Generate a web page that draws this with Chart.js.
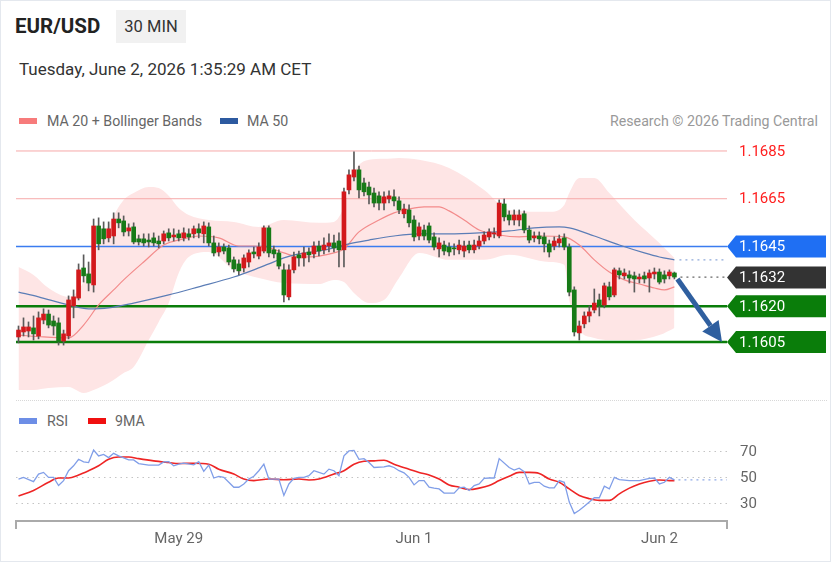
<!DOCTYPE html>
<html><head><meta charset="utf-8">
<script src="https://cdn.jsdelivr.net/npm/chart.js@4"></script>
<style>
html,body{margin:0;padding:0;background:#fff;}
body{width:832px;height:564px;position:relative;overflow:hidden;font-family:Roboto,'Liberation Sans',sans-serif;}
#frame{position:absolute;left:0;top:0;width:831px;height:562px;border:1px solid #e4e8ee;box-sizing:border-box;}
.t{position:absolute;white-space:nowrap;}
#title{left:15px;top:13px;font-size:20.5px;font-weight:bold;color:#222;line-height:26px;}
#tf{left:116px;top:10px;width:70px;height:33px;line-height:33px;text-align:center;background:#f1f1f1;font-size:16.5px;color:#333;}
#date{left:19px;top:58px;font-size:17px;color:#333;line-height:22px;}
.sw{position:absolute;width:18px;height:6px;}
.lg{font-size:14.2px;color:#666;line-height:16px;}
canvas{position:absolute;left:0;}
#sep{position:absolute;left:16px;top:400px;width:811px;border-top:1px dotted #d8d8d8;}
</style></head>
<body>
<div id="frame"></div>
<div class="t" id="title">EUR/USD</div>
<div class="t" id="tf">30 MIN</div>
<div class="t" id="date">Tuesday, June 2, 2026 1:35:29 AM CET</div>
<div class="sw" style="left:19px;top:118px;background:#f77b7b"></div>
<div class="t lg" style="left:47px;top:113px">MA 20 + Bollinger Bands</div>
<div class="sw" style="left:220px;top:118px;background:#2d5aa0"></div>
<div class="t lg" style="left:247px;top:113px">MA 50</div>
<div class="t lg" style="right:14px;top:113px;color:#999">Research © 2026 Trading Central</div>
<div id="sep"></div>
<div class="sw" style="left:19px;top:418px;background:#6d8ee6"></div>
<div class="t lg" style="left:47px;top:413px">RSI</div>
<div class="sw" style="left:88px;top:418px;background:#f01010"></div>
<div class="t lg" style="left:115px;top:413px">9MA</div>
<canvas id="main" width="832" height="260" style="top:140px"></canvas>
<canvas id="rsi" width="832" height="124" style="top:440px"></canvas>
<script>
// ---------- DATA ----------
const slotCount = 142; // 132 candles + empty space on the right
const tickSlots = [32, 79, 128];
const tickLabels = ['May 29', 'Jun 1', 'Jun 2'];

const opens = [
1.16071,1.16092,1.16096,1.16109,1.16075,1.16142,1.16167,1.16138,1.16130,1.16054,
1.16075,1.16201,1.16234,1.16360,1.16335,1.16289,1.16536,1.16524,1.16486,1.16494,
1.16565,1.16557,1.16515,1.16532,1.16482,1.16482,1.16477,1.16486,1.16473,1.16473,
1.16507,1.16490,1.16503,1.16486,1.16503,1.16503,1.16524,1.16503,1.16532,1.16465,
1.16427,1.16448,1.16444,1.16394,1.16377,1.16360,1.16385,1.16427,1.16410,1.16431,
1.16528,1.16436,1.16423,1.16352,1.16239,1.16352,1.16415,1.16402,1.16427,1.16419,
1.16452,1.16436,1.16452,1.16465,1.16473,1.16436,1.16687,1.16741,1.16771,1.16716,
1.16699,1.16674,1.16662,1.16632,1.16649,1.16658,1.16641,1.16587,1.16603,1.16561,
1.16494,1.16519,1.16536,1.16490,1.16440,1.16456,1.16448,1.16444,1.16436,1.16431,
1.16456,1.16436,1.16452,1.16473,1.16490,1.16503,1.16494,1.16628,1.16582,1.16561,
1.16561,1.16587,1.16519,1.16486,1.16494,1.16490,1.16461,1.16452,1.16465,1.16486,
1.16448,1.16268,1.16088,1.16126,1.16159,1.16184,1.16226,1.16205,1.16281,1.16247,
1.16348,1.16327,1.16331,1.16327,1.16314,1.16327,1.16318,1.16335,1.16343,1.16331,
1.16327,1.16339];
const closes = [
1.16100,1.16113,1.16113,1.16084,1.16151,1.16167,1.16121,1.16117,1.16050,1.16084,
1.16226,1.16239,1.16352,1.16327,1.16297,1.16536,1.16461,1.16482,1.16524,1.16565,
1.16549,1.16511,1.16528,1.16469,1.16469,1.16465,1.16469,1.16465,1.16461,1.16503,
1.16486,1.16498,1.16486,1.16507,1.16490,1.16524,1.16507,1.16536,1.16465,1.16423,
1.16448,1.16431,1.16385,1.16356,1.16348,1.16402,1.16423,1.16419,1.16448,1.16528,
1.16423,1.16419,1.16368,1.16247,1.16352,1.16406,1.16402,1.16423,1.16415,1.16452,
1.16431,1.16456,1.16465,1.16444,1.16436,1.16679,1.16750,1.16771,1.16687,1.16679,
1.16666,1.16632,1.16632,1.16658,1.16662,1.16641,1.16603,1.16607,1.16549,1.16490,
1.16532,1.16494,1.16477,1.16448,1.16465,1.16431,1.16427,1.16440,1.16456,1.16452,
1.16436,1.16456,1.16473,1.16498,1.16511,1.16507,1.16632,1.16574,1.16561,1.16582,
1.16582,1.16519,1.16477,1.16494,1.16482,1.16461,1.16427,1.16473,1.16482,1.16448,
1.16259,1.16092,1.16117,1.16159,1.16176,1.16213,1.16201,1.16285,1.16239,1.16352,
1.16331,1.16339,1.16318,1.16314,1.16322,1.16314,1.16339,1.16343,1.16301,1.16314,
1.16343,1.16322];
const highs = [
1.16117,1.16151,1.16134,1.16159,1.16176,1.16189,1.16184,1.16159,1.16151,1.16100,
1.16243,1.16268,1.16377,1.16415,1.16385,1.16565,1.16570,1.16553,1.16553,1.16591,
1.16591,1.16578,1.16545,1.16549,1.16498,1.16503,1.16503,1.16507,1.16494,1.16515,
1.16524,1.16524,1.16519,1.16528,1.16524,1.16536,1.16545,1.16553,1.16549,1.16494,
1.16465,1.16461,1.16456,1.16406,1.16394,1.16415,1.16436,1.16448,1.16465,1.16536,
1.16536,1.16452,1.16436,1.16377,1.16373,1.16427,1.16431,1.16448,1.16444,1.16469,
1.16473,1.16486,1.16503,1.16498,1.16507,1.16695,1.16771,1.16846,1.16787,1.16737,
1.16720,1.16695,1.16679,1.16679,1.16683,1.16687,1.16658,1.16628,1.16624,1.16578,
1.16549,1.16540,1.16549,1.16507,1.16486,1.16473,1.16465,1.16461,1.16477,1.16473,
1.16473,1.16477,1.16494,1.16511,1.16524,1.16528,1.16645,1.16649,1.16599,1.16603,
1.16603,1.16599,1.16536,1.16511,1.16511,1.16507,1.16477,1.16490,1.16498,1.16503,
1.16461,1.16281,1.16138,1.16176,1.16201,1.16272,1.16251,1.16297,1.16301,1.16360,
1.16360,1.16356,1.16348,1.16343,1.16335,1.16343,1.16352,1.16360,1.16356,1.16348,
1.16352,1.16343];
const lows = [
1.16046,1.16075,1.16071,1.16058,1.16063,1.16126,1.16109,1.16079,1.16037,1.16037,
1.16063,1.16151,1.16226,1.16301,1.16264,1.16259,1.16436,1.16461,1.16469,1.16461,
1.16528,1.16494,1.16494,1.16461,1.16456,1.16452,1.16448,1.16452,1.16444,1.16461,
1.16473,1.16473,1.16473,1.16473,1.16477,1.16486,1.16486,1.16465,1.16452,1.16410,
1.16410,1.16419,1.16373,1.16343,1.16331,1.16343,1.16364,1.16402,1.16398,1.16423,
1.16406,1.16402,1.16356,1.16218,1.16226,1.16339,1.16368,1.16368,1.16385,1.16402,
1.16410,1.16419,1.16427,1.16427,1.16364,1.16364,1.16670,1.16725,1.16653,1.16662,
1.16628,1.16616,1.16603,1.16603,1.16632,1.16620,1.16587,1.16570,1.16532,1.16473,
1.16477,1.16477,1.16465,1.16436,1.16406,1.16415,1.16410,1.16415,1.16419,1.16406,
1.16423,1.16423,1.16440,1.16461,1.16477,1.16486,1.16486,1.16557,1.16540,1.16540,
1.16536,1.16507,1.16465,1.16469,1.16461,1.16427,1.16406,1.16436,1.16448,1.16436,
1.16243,1.16075,1.16058,1.16109,1.16134,1.16172,1.16159,1.16193,1.16226,1.16239,
1.16314,1.16314,1.16297,1.16259,1.16297,1.16297,1.16259,1.16314,1.16293,1.16297,
1.16314,1.16314];

const ma20Slots = [0,5,10,13,16,19,21,25,29,33,36,40,44,47,50,53,56,60,63,65,68,72,75,78,81,84,86,89,92,96,100,104,109,112,115,118,121,124,127,129,131];
const ma20Values = [1.16079,1.16071,1.16067,1.16121,1.16205,1.16268,1.16310,1.16385,1.16456,1.16482,
1.16494,1.16486,1.16452,1.16452,1.16444,1.16423,1.16406,1.16410,1.16423,1.16440,
1.16511,1.16561,1.16591,1.16607,1.16616,1.16616,1.16599,1.16561,1.16519,1.16498,
1.16490,1.16494,1.16490,1.16456,1.16394,1.16343,1.16310,1.16293,1.16276,1.16268,1.16281];

const ma50Slots = [0,4,10,14,18,23,30,36,43,47,50,53,56,60,63,66,70,75,80,86,92,98,103,108,110,115,120,125,128,131];
const ma50Values = [1.16259,1.16239,1.16205,1.16189,1.16193,1.16213,1.16247,1.16281,1.16322,1.16352,
1.16377,1.16402,1.16419,1.16431,1.16444,1.16461,1.16477,1.16494,1.16503,1.16503,
1.16507,1.16515,1.16528,1.16532,1.16528,1.16494,1.16456,1.16423,1.16406,1.16394];

const bandSlots = [0,3,6,10,13,15,18,21,23,26,28,30,32,34,38,43,48,53,60,63,65,67,70,73,76,80,86,93,98,106,109,110,112,115,118,123,128,131];
const bandUpper = [1.16364,1.16331,1.16276,1.16239,1.16301,1.16415,1.16540,1.16645,1.16674,1.16699,
1.16695,1.16662,1.16611,1.16582,1.16561,1.16553,1.16532,1.16561,1.16549,1.16553,
1.16616,1.16758,1.16813,1.16817,1.16821,1.16813,1.16779,1.16687,1.16603,1.16595,
1.16624,1.16674,1.16737,1.16737,1.16674,1.16561,1.16465,1.16402];
const bandLower = [1.15849,1.15849,1.15857,1.15861,1.15836,1.15849,1.15878,1.15920,1.15945,1.16058,
1.16134,1.16213,1.16339,1.16406,1.16427,1.16352,1.16318,1.16297,1.16293,1.16310,
1.16301,1.16255,1.16213,1.16226,1.16318,1.16423,1.16394,1.16394,1.16415,1.16385,
1.16373,1.16226,1.16100,1.16067,1.16058,1.16058,1.16079,1.16109];

const levelValues = [1.1685, 1.1665, 1.1645, 1.1632, 1.1620, 1.1605];
const levelLabels = ['1.1685', '1.1665', '1.1645', '1.1632', '1.1620', '1.1605'];
const arrowTarget = 1.1605;

const rsiSlots = [0,1,3,4,5,6,7,8,9,10,11,12,13,14,15,16,17,18,19,20,22,23,24,26,28,29,30,31,32,33,
35,36,37,38,39,40,41,42,43,44,45,46,47,48,49,50,51,52,53,54,55,56,57,58,59,60,61,62,63,64,
65,66,67,68,69,70,71,73,74,75,76,77,78,79,80,81,82,83,84,85,86,87,88,89,90,91,92,93,94,95,
96,98,99,100,101,102,103,104,105,106,107,108,109,110,111,112,113,114,115,116,117,118,119,120,
122,124,126,127,128,129,130,131];
const rsiValues = [49.2,50.5,47.2,53.0,54.3,50.5,50.5,44.2,48.0,55.6,
59.4,64.4,62.4,61.9,71.5,67.0,68.2,65.7,69.0,67.0,
63.9,63.9,61.1,59.9,59.9,62.4,62.6,59.4,60.6,61.4,
60.1,62.6,55.1,59.9,50.0,51.3,50.5,46.7,42.9,42.9,
45.4,49.2,51.3,55.6,60.6,49.2,49.2,49.2,36.6,45.4,
49.7,50.5,50.5,51.8,55.6,54.3,53.0,56.8,55.6,51.8,
67.0,70.8,71.2,64.4,64.9,61.9,58.1,58.6,59.4,58.1,
55.6,54.0,50.5,44.7,48.0,48.0,42.9,42.2,41.6,38.4,
38.4,38.4,42.4,42.9,40.4,44.2,45.4,49.7,50.0,50.0,
64.9,58.1,56.1,57.6,54.9,45.4,46.7,46.7,43.7,42.4,
42.4,48.0,46.7,31.5,22.7,25.2,28.2,31.5,34.8,34.8,
43.7,41.6,50.5,48.7,48.0,48.0,49.7,50.0,45.4,46.7,
50.5,48.5];

const rsiMaSlots = [0,3,6,8,10,12,14,16,18,20,22,24,27,30,32,35,38,40,43,45,47,50,53,56,58,60,63,65,67,69,
71,73,75,78,80,82,84,86,88,90,92,94,96,98,100,102,104,106,108,110,112,114,116,118,120,122,124,126,128,130,131];
const rsiMaValues = [36.1,40.4,46.7,50.0,50.0,52.3,55.6,59.4,64.4,66.2,
66.2,64.9,63.2,61.9,61.1,61.4,60.6,56.8,53.0,49.2,
48.0,49.2,48.7,49.2,48.5,49.2,53.0,55.6,60.6,62.9,
63.2,63.7,60.6,56.8,54.3,52.3,49.2,44.7,42.9,41.1,
42.2,44.2,48.0,51.3,54.3,54.3,53.5,49.2,46.7,41.6,
36.6,34.1,32.8,32.8,37.8,42.2,45.4,47.5,48.5,48.0,48.0];
const rsiTicks = [30, 50, 70];

// ---------- STYLES ----------
const UP = '#d3191c', DOWN = '#177a17';
const levelStyles = [
  {line:'#f6a9a9', lw:1, text:'#ff2020'},
  {line:'#f6a9a9', lw:1, text:'#ff2020'},
  {line:'#3b7cf0', lw:1.5, text:'#ffffff', box:'#1f6ff3'},
  {line:null, text:'#ffffff', box:'#333333'},
  {line:'#0a7d0a', lw:2.5, text:'#ffffff', box:'#0a7d0a'},
  {line:'#0a7d0a', lw:2.5, text:'#ffffff', box:'#0a7d0a'}
];

Chart.defaults.font.family = 'Roboto, "Liberation Sans", sans-serif';
const slots = Array.from({length: slotCount}, (_, i) => i);
const pts = (xs, ys) => xs.map((s, i) => ({x: s, y: ys[i]}));

const levelPlugin = {
  id: 'levels',
  beforeDatasetsDraw(chart) {
    const {ctx, chartArea: a, scales: {y}} = chart;
    ctx.save();
    levelValues.forEach((v, k) => {
      const st = levelStyles[k];
      if (!st.line) return;
      const py = y.getPixelForValue(v);
      ctx.strokeStyle = st.line; ctx.lineWidth = st.lw;
      ctx.beginPath(); ctx.moveTo(a.left, py); ctx.lineTo(a.right, py); ctx.stroke();
    });
    ctx.restore();
  },
  afterDatasetsDraw(chart) {
    const {ctx, chartArea: a, scales: {x, y}} = chart;
    const last = closes.length - 1;
    const lx = x.getPixelForValue(last);
    const cy = y.getPixelForValue(closes[last]);
    ctx.save();
    ctx.setLineDash([2, 4]); ctx.lineWidth = 1.2;
    ctx.strokeStyle = '#8fa9d9';
    const m50y = y.getPixelForValue(ma50Values[ma50Values.length - 1]);
    ctx.beginPath(); ctx.moveTo(lx + 5, m50y); ctx.lineTo(a.right, m50y); ctx.stroke();
    ctx.strokeStyle = '#666';
    ctx.beginPath(); ctx.moveTo(lx + 6, cy); ctx.lineTo(a.right, cy); ctx.stroke();
    ctx.setLineDash([]);
    // arrow
    const sx = lx + 3, sy = cy + 2, ex = a.right - 5, ey = y.getPixelForValue(arrowTarget);
    const ang = Math.atan2(ey - sy, ex - sx);
    const hl = 20, hw = 10;
    const bx = ex - hl * Math.cos(ang), by = ey - hl * Math.sin(ang);
    ctx.strokeStyle = '#2f5f9f'; ctx.fillStyle = '#2f5f9f'; ctx.lineWidth = 5;
    ctx.beginPath(); ctx.moveTo(sx, sy); ctx.lineTo(bx, by); ctx.stroke();
    ctx.beginPath(); ctx.moveTo(ex, ey);
    ctx.lineTo(bx + hw * Math.sin(ang), by - hw * Math.cos(ang));
    ctx.lineTo(bx - hw * Math.sin(ang), by + hw * Math.cos(ang));
    ctx.closePath(); ctx.fill();
    // labels
    ctx.font = '15px Roboto, "Liberation Sans", sans-serif';
    ctx.textBaseline = 'middle'; ctx.textAlign = 'left';
    const rEdge = chart.width - 6;
    levelValues.forEach((v, k) => {
      const st = levelStyles[k];
      const py = y.getPixelForValue(v);
      if (st.box) {
        const x0 = a.right;
        ctx.fillStyle = st.box;
        ctx.beginPath(); ctx.moveTo(x0, py); ctx.lineTo(x0 + 9, py - 11); ctx.lineTo(rEdge, py - 11);
        ctx.lineTo(rEdge, py + 11); ctx.lineTo(x0 + 9, py + 11); ctx.closePath(); ctx.fill();
      }
      ctx.fillStyle = st.text;
      ctx.fillText(levelLabels[k], a.right + 12, py + 1);
    });
    ctx.restore();
  }
};

new Chart(document.getElementById('main'), {
  type: 'bar',
  data: {
    labels: slots,
    datasets: [
      {type: 'line', data: pts(bandSlots, bandUpper), borderColor: 'transparent', borderWidth: 0, pointRadius: 0,
       fill: '+1', backgroundColor: '#fee5e5', cubicInterpolationMode: 'monotone', order: 10},
      {type: 'line', data: pts(bandSlots, bandLower), borderColor: 'transparent', borderWidth: 0, pointRadius: 0,
       fill: false, cubicInterpolationMode: 'monotone', order: 10},
      {type: 'line', data: pts(ma50Slots, ma50Values), borderColor: '#5b7db6', borderWidth: 1.2, pointRadius: 0,
       fill: false, cubicInterpolationMode: 'monotone', order: 5},
      {type: 'line', data: pts(ma20Slots, ma20Values), borderColor: '#f38b8b', borderWidth: 1.2, pointRadius: 0,
       fill: false, cubicInterpolationMode: 'monotone', order: 5},
      {data: lows.map((l, i) => [l, highs[i]]), backgroundColor: '#5a5a5a', barThickness: 1, grouped: false, order: 3},
      {data: opens.map((o, i) => [o, closes[i]]), backgroundColor: opens.map((o, i) => closes[i] >= o ? UP : DOWN),
       barThickness: 4, grouped: false, minBarLength: 1, order: 1}
    ]
  },
  options: {
    responsive: false, animation: false, devicePixelRatio: 1,
    layout: {padding: {left: 16, right: 105, top: 0, bottom: 0}},
    plugins: {legend: {display: false}, tooltip: {enabled: false}, filler: {drawTime: 'beforeDraw'}},
    scales: {
      x: {display: false, offset: true},
      y: {display: false, min: 1.15807, max: 1.16896}
    }
  },
  plugins: [levelPlugin]
});

const rsiPlugin = {
  id: 'rsiExtras',
  afterDatasetsDraw(chart) {
    const {ctx, chartArea: a, scales: {x, y}} = chart;
    const lx = x.getPixelForValue(rsiSlots[rsiSlots.length - 1]);
    const ry = y.getPixelForValue(rsiValues[rsiValues.length - 1]);
    ctx.save(); ctx.setLineDash([2, 4]); ctx.strokeStyle = '#8fa9e6'; ctx.lineWidth = 1.3;
    ctx.beginPath(); ctx.moveTo(lx + 4, ry); ctx.lineTo(a.right, ry); ctx.stroke(); ctx.restore();
  },
  afterDraw(chart) {
    const {ctx, chartArea: a} = chart;
    ctx.save(); ctx.strokeStyle = '#aaaaaa'; ctx.lineWidth = 2;
    ctx.beginPath();
    ctx.moveTo(a.left, a.bottom); ctx.lineTo(a.left, a.bottom + 8);
    ctx.moveTo(a.right, a.bottom); ctx.lineTo(a.right, a.bottom + 8);
    ctx.stroke(); ctx.restore();
  }
};

new Chart(document.getElementById('rsi'), {
  type: 'line',
  data: {
    labels: slots,
    datasets: [
      {data: pts(rsiSlots, rsiValues), borderColor: '#809ee8', borderWidth: 1.3, pointRadius: 0, tension: 0},
      {data: pts(rsiMaSlots, rsiMaValues), borderColor: '#ee2525', borderWidth: 1.6, pointRadius: 0, cubicInterpolationMode: 'monotone'}
    ]
  },
  options: {
    responsive: false, animation: false, devicePixelRatio: 1,
    layout: {padding: {left: 16, right: 0, top: 0, bottom: 0}},
    plugins: {legend: {display: false}, tooltip: {enabled: false}},
    scales: {
      x: {
        offset: true,
        grid: {display: false, drawTicks: false},
        border: {display: true, color: '#aaaaaa', width: 2},
        ticks: {autoSkip: false, maxRotation: 0, padding: 9, color: '#666', font: {size: 15},
          callback: (v, i) => { const k = tickSlots.indexOf(i); return k >= 0 ? tickLabels[k] : ''; }},
        afterFit: (s) => { s.height = 43; s.paddingLeft = 0; s.paddingRight = 0; }
      },
      y: {
        position: 'right', min: 16.92, max: 79.23,
        grid: {color: '#c4c4c4', lineWidth: 1, drawTicks: false},
        border: {display: false, dash: [1.5, 4]},
        ticks: {padding: 13, color: '#666', font: {size: 15}},
        afterBuildTicks: (s) => { s.ticks = rsiTicks.map(v => ({value: v})); },
        afterFit: (s) => { s.width = 105; s.paddingTop = 0; s.paddingBottom = 0; }
      }
    }
  },
  plugins: [rsiPlugin]
});
</script>
</body></html>
